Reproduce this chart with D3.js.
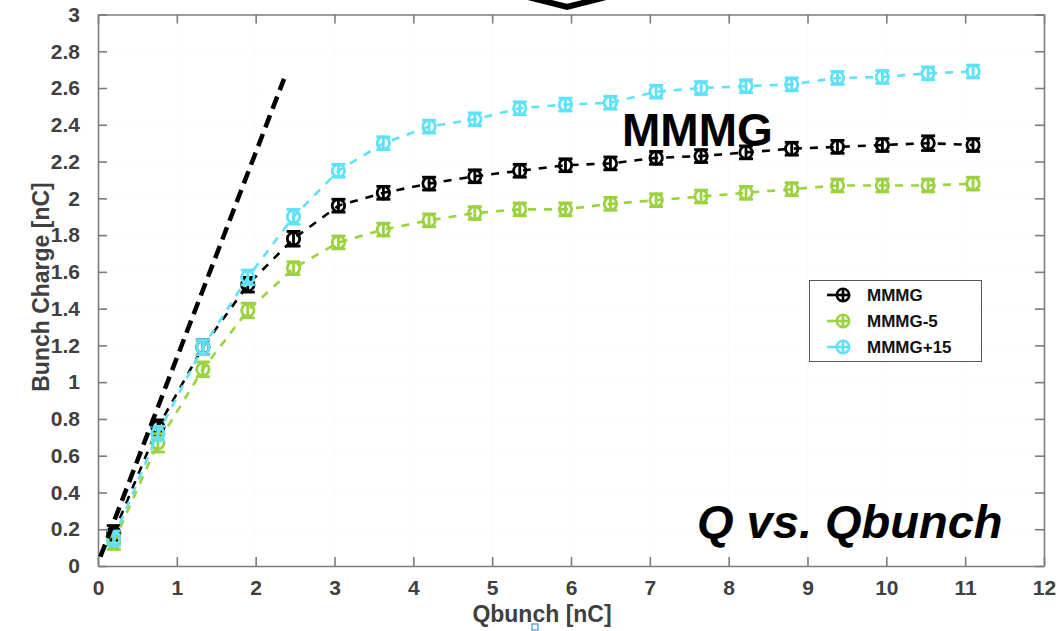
<!DOCTYPE html>
<html>
<head>
<meta charset="utf-8">
<script src="https://cdn.jsdelivr.net/npm/d3@7/dist/d3.min.js"></script>
<style>
  html, body { margin: 0; padding: 0; background: #fff; }
  svg { display: block; font-family: "Liberation Sans", Arial, sans-serif; }
</style>
</head>
<body>
<svg id="chart" width="1063" height="631"></svg>
<script>
// Bunch charge measured vs. injected bunch charge, three cathode settings
const qbunch = [0.2, 0.76, 1.33, 1.9, 2.48, 3.05, 3.62, 4.2, 4.78, 5.35, 5.93, 6.5, 7.08, 7.65, 8.22, 8.8, 9.38, 9.95, 10.53, 11.1];
const mmmg     = [0.18, 0.755, 1.19, 1.53, 1.78, 1.96, 2.03, 2.08, 2.12, 2.15, 2.18, 2.19, 2.22, 2.23, 2.25, 2.27, 2.28, 2.29, 2.30, 2.29];
const mmmgM5   = [0.13, 0.67, 1.07, 1.39, 1.62, 1.76, 1.83, 1.88, 1.92, 1.94, 1.94, 1.97, 1.99, 2.01, 2.03, 2.05, 2.07, 2.07, 2.07, 2.08];
const mmmgP15  = [0.15, 0.72, 1.19, 1.57, 1.90, 2.15, 2.30, 2.39, 2.43, 2.49, 2.51, 2.52, 2.58, 2.60, 2.61, 2.62, 2.655, 2.66, 2.68, 2.69];
const errMmmg  = [0.04, 0.04, 0.04, 0.04, 0.04, 0.035, 0.035, 0.035, 0.035, 0.035, 0.035, 0.035, 0.035, 0.035, 0.035, 0.035, 0.035, 0.035, 0.04, 0.035];
const errM5    = [0.04, 0.05, 0.04, 0.04, 0.035, 0.035, 0.035, 0.035, 0.035, 0.035, 0.035, 0.035, 0.035, 0.035, 0.035, 0.035, 0.035, 0.035, 0.035, 0.035];
const errP15   = [0.04, 0.04, 0.04, 0.04, 0.04, 0.035, 0.035, 0.035, 0.035, 0.035, 0.035, 0.035, 0.035, 0.035, 0.035, 0.035, 0.035, 0.035, 0.035, 0.035];
const seriesNames = ["MMMG", "MMMG-5", "MMMG+15"];
// linear reference: charge equal to bunch charge
const refX = [0.03, 2.36];
const refY = [0.05, 2.65];
const xTicks = [0, 1, 2, 3, 4, 5, 6, 7, 8, 9, 10, 11, 12];
const yTicks = [0, 0.2, 0.4, 0.6, 0.8, 1, 1.2, 1.4, 1.6, 1.8, 2, 2.2, 2.4, 2.6, 2.8, 3];

const colors = ["#000000", "#9bd23f", "#5fe2f7"];
const series = [
  { name: seriesNames[0], y: mmmg, e: errMmmg, color: colors[0] },
  { name: seriesNames[1], y: mmmgM5, e: errM5, color: colors[1] },
  { name: seriesNames[2], y: mmmgP15, e: errP15, color: colors[2] }
];

const svg = d3.select("#chart");
const x = d3.scaleLinear().domain([0, 12]).range([98, 1044]);
const y = d3.scaleLinear().domain([0, 3]).range([566, 14.5]);
const axisColor = "#7c7c7c";
const labelColor = "#404040";

// faint grid
const grid = svg.append("g");
grid.selectAll("line.gx").data(xTicks.slice(1, -1)).join("line")
  .attr("x1", d => x(d)).attr("x2", d => x(d)).attr("y1", y(0)).attr("y2", y(3))
  .attr("stroke", "#f0f0f0").attr("stroke-width", 1).attr("stroke-dasharray", "1,3");
grid.selectAll("line.gy").data(yTicks.slice(1, -1)).join("line")
  .attr("y1", d => y(d)).attr("y2", d => y(d)).attr("x1", x(0)).attr("x2", x(12))
  .attr("stroke", "#f0f0f0").attr("stroke-width", 1).attr("stroke-dasharray", "1,3");

// axes (ticks pointing inward, box on)
function styleAxis(g) {
  g.select(".domain").attr("stroke", axisColor).attr("stroke-width", 1.6);
  g.selectAll(".tick line").attr("stroke", axisColor).attr("stroke-width", 1.6);
  g.selectAll(".tick text").attr("fill", labelColor)
    .attr("font-size", 21).attr("font-weight", "bold")
    .attr("font-family", "'Liberation Sans', Arial, sans-serif");
}
svg.append("g").attr("transform", `translate(0,${y(0)})`)
  .call(d3.axisBottom(x).tickValues(xTicks).tickFormat(d3.format("d")).tickSizeInner(-9).tickSizeOuter(0).tickPadding(14))
  .call(styleAxis);
svg.append("g").attr("transform", `translate(0,${y(3)})`)
  .call(d3.axisTop(x).tickValues(xTicks).tickSizeInner(-9).tickSizeOuter(0).tickFormat(""))
  .call(styleAxis);
svg.append("g").attr("transform", `translate(${x(0)},0)`)
  .call(d3.axisLeft(y).tickValues(yTicks).tickFormat(d => d3.format("~g")(d)).tickSizeInner(-9).tickSizeOuter(0).tickPadding(18))
  .call(styleAxis);
svg.append("g").attr("transform", `translate(${x(12)},0)`)
  .call(d3.axisRight(y).tickValues(yTicks).tickSizeInner(-9).tickSizeOuter(0).tickFormat(""))
  .call(styleAxis);

// axis titles
svg.append("text").attr("x", 542).attr("y", 622).attr("text-anchor", "middle")
  .attr("font-size", 23).attr("font-weight", "bold").attr("fill", labelColor)
  .text("Qbunch [nC]");
svg.append("text").attr("transform", "translate(49,287) rotate(-90)").attr("text-anchor", "middle")
  .attr("font-size", 23).attr("font-weight", "bold").attr("fill", labelColor)
  .text("Bunch Charge [nC]");

// data series: dashed line, error bars, open circles
const line = d3.line().x(d => x(d[0])).y(d => y(d[1]));
const capHalf = 7;
series.forEach(s => {
  const pts = qbunch.map((q, i) => [q, s.y[i], s.e[i]]);
  const g = svg.append("g");
  g.append("path").datum(pts).attr("d", line)
    .attr("fill", "none").attr("stroke", s.color).attr("stroke-width", 2.6)
    .attr("stroke-dasharray", "8,8");
  const eb = g.selectAll("g.eb").data(pts).join("g")
    .attr("stroke", s.color).attr("stroke-width", 2.8).attr("fill", "none");
  eb.append("line").attr("x1", d => x(d[0])).attr("x2", d => x(d[0]))
    .attr("y1", d => y(d[1] - d[2])).attr("y2", d => y(d[1] + d[2]));
  eb.append("line").attr("x1", d => x(d[0]) - capHalf).attr("x2", d => x(d[0]) + capHalf)
    .attr("y1", d => y(d[1] + d[2])).attr("y2", d => y(d[1] + d[2]));
  eb.append("line").attr("x1", d => x(d[0]) - capHalf).attr("x2", d => x(d[0]) + capHalf)
    .attr("y1", d => y(d[1] - d[2])).attr("y2", d => y(d[1] - d[2]));
  eb.append("circle").attr("cx", d => x(d[0])).attr("cy", d => y(d[1])).attr("r", 6.2);
});

// reference line
svg.append("line")
  .attr("x1", x(refX[0])).attr("y1", y(refY[0]))
  .attr("x2", x(refX[1])).attr("y2", y(refY[1]))
  .attr("stroke", "#000").attr("stroke-width", 4.5).attr("stroke-dasharray", "13,7");

// annotations
svg.append("text").attr("x", 622).attr("y", 146)
  .attr("font-size", 46).attr("font-weight", "bold").attr("fill", "#000")
  .text("MMMG");
svg.append("text").attr("x", 697).attr("y", 538)
  .attr("font-size", 47).attr("font-weight", "bold").attr("font-style", "italic").attr("fill", "#000")
  .text("Q vs. Qbunch");

// chevron at the top edge
svg.append("path").attr("d", "M524,-4 L567,7 L610,-4")
  .attr("fill", "none").attr("stroke", "#000").attr("stroke-width", 6).attr("stroke-linejoin", "miter");

// small marker below the x-axis title
svg.append("rect").attr("x", 532).attr("y", 624).attr("width", 6).attr("height", 6)
  .attr("fill", "#fff").attr("stroke", "#3a9ad9").attr("stroke-width", 1.2);

// legend
const lg = svg.append("g");
lg.append("rect").attr("x", 809.5).attr("y", 280.5).attr("width", 172).attr("height", 81)
  .attr("fill", "#fff").attr("stroke", "#555").attr("stroke-width", 1);
series.forEach((s, i) => {
  const cy = 295 + i * 26;
  const row = lg.append("g").attr("stroke", s.color).attr("stroke-width", 2.6).attr("fill", "none");
  row.append("line").attr("x1", 827).attr("x2", 843).attr("y1", cy).attr("y2", cy);
  row.append("line").attr("x1", 843).attr("x2", 850).attr("y1", cy).attr("y2", cy);
  row.append("circle").attr("cx", 843).attr("cy", cy).attr("r", 6.2);
  row.append("line").attr("x1", 843).attr("x2", 843).attr("y1", cy - 6).attr("y2", cy + 6);
  lg.append("text").attr("x", 867).attr("y", cy + 6)
    .attr("font-size", 17).attr("font-weight", "bold").attr("fill", "#111")
    .text(s.name);
});
</script>
</body>
</html>
